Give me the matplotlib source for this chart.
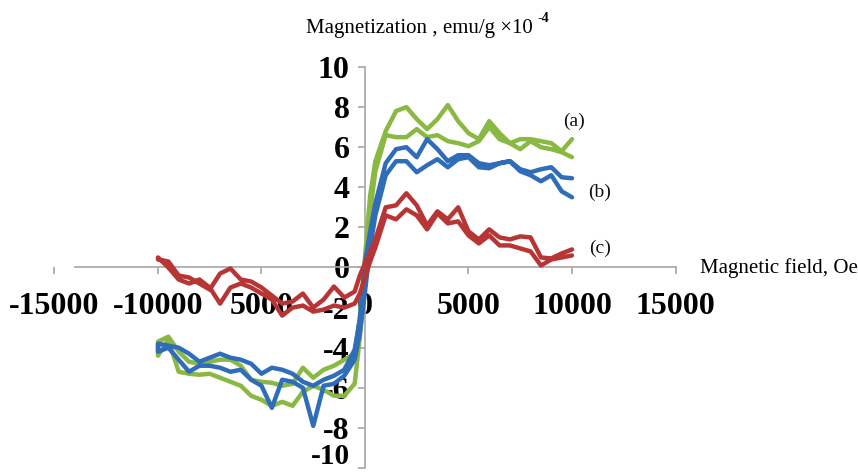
import matplotlib
matplotlib.use("Agg")
import matplotlib.pyplot as plt
import matplotlib.transforms as mtransforms

# Applied field (Oe), shared by every branch
field = [-10000, -9500, -9000, -8500, -8000, -7500, -7000, -6500, -6000, -5500,
         -5000, -4500, -4000, -3500, -3000, -2500, -2000, -1500, -1000, -500,
         -250, 0, 250, 500, 1000, 1500, 2000, 2500, 3000, 3500,
         4000, 4500, 5000, 5500, 6000, 6500, 7000, 7500, 8000, 8500,
         9000, 9500, 10000]

# Sample (a): magnetization, emu/g x 1e-4
a_desc = [-3.7, -3.45, -4.2, -4.7, -4.8, -4.7, -4.6, -4.6, -4.9, -5.6,
          -5.7, -5.75, -5.9, -5.8, -5.0, -5.5, -5.1, -4.9, -4.6, -4.3,
          -2.5, 0.5, 3.6, 5.3, 6.8, 7.8, 8.0, 7.4, 6.9, 7.4,
          8.1, 7.3, 6.7, 6.4, 7.3, 6.7, 6.2, 6.4, 6.4, 6.3,
          6.2, 5.8, 6.4]
a_asc = [-4.4, -3.6, -5.2, -5.3, -5.35, -5.3, -5.5, -5.7, -5.9, -6.4,
         -6.6, -6.9, -6.7, -6.9, -6.2, -5.9, -6.1, -6.4, -6.4, -5.8,
         -3.5, -0.5, 2.8, 4.8, 6.6, 6.5, 6.5, 6.9, 6.5, 6.6,
         6.3, 6.2, 6.05, 6.3, 7.0, 6.4, 6.2, 5.9, 6.3, 6.0,
         5.9, 5.75, 5.5]

# Sample (b)
b_desc = [-3.8, -3.9, -4.0, -4.3, -4.7, -4.5, -4.3, -4.5, -4.6, -4.8,
          -5.3, -5.0, -5.1, -5.3, -5.7, -5.9, -5.6, -5.4, -5.1, -4.1,
          -2.6, 0.3, 1.8, 3.2, 5.2, 5.9, 6.0, 5.5, 6.4, 5.9,
          5.3, 5.6, 5.6, 5.2, 5.1, 5.2, 5.3, 4.9, 4.75, 4.9,
          5.0, 4.5, 4.45]
b_asc = [-4.2, -4.0, -4.6, -5.2, -4.9, -4.9, -5.0, -5.2, -5.1, -5.6,
         -5.9, -7.0, -5.6, -5.7, -6.0, -7.9, -5.9, -5.8, -5.4, -4.6,
         -3.3, -1.2, 1.0, 2.6, 4.6, 5.3, 5.3, 4.75, 5.1, 5.4,
         5.0, 5.4, 5.5, 5.0, 4.95, 5.2, 5.3, 4.8, 4.6, 4.3,
         4.6, 3.8, 3.5]

# Sample (c)
c_desc = [0.4, 0.3, -0.4, -0.5, -0.8, -1.1, -0.3, -0.05, -0.6, -0.7,
          -1.0, -1.4, -1.8, -1.7, -1.3, -2.0, -1.6, -0.95, -1.5, -1.2,
          -0.4, 0.2, 0.8, 1.4, 3.0, 3.1, 3.7, 3.1, 2.1, 2.8,
          2.4, 3.0, 1.8, 1.4, 1.9, 1.5, 1.4, 1.55, 1.5, 0.5,
          0.45, 0.7, 0.9]
c_asc = [0.5, 0.0, -0.6, -0.8, -0.6, -1.0, -1.8, -1.0, -0.8, -1.0,
         -1.3, -1.6, -2.4, -2.0, -1.9, -2.2, -2.1, -1.9, -2.0, -1.8,
         -1.3, -0.5, 0.3, 1.0, 2.6, 2.4, 2.9, 2.6, 1.9, 2.7,
         2.2, 2.3, 1.6, 1.2, 1.6, 1.1, 1.1, 0.95, 0.8, 0.1,
         0.4, 0.5, 0.6]

x_ticks = [-15000, -10000, -5000, 0, 5000, 10000, 15000]
x_tick_labels = ["-15000", "-10000", "5000", "0", "5000", "10000", "15000"]
y_ticks = [-10, -8, -6, -4, -2, 0, 2, 4, 6, 8, 10]
y_tick_labels = ["-10", "-8", "-6", "-4", "-2", "0", "2", "4", "6", "8", "10"]

samples = [("(a)", a_desc, a_asc, "#8AB943", 10100, 7.3),
           ("(b)", b_desc, b_asc, "#2F6DB9", 11350, 3.75),
           ("(c)", c_desc, c_asc, "#B83535", 11350, 0.95)]

SERIF = "Liberation Serif"
AXIS_GREY = "#A6A6A6"

fig = plt.figure(figsize=(8.58, 4.72), dpi=100)
ax = fig.add_axes([0.0635, 0.0085, 0.7238, 0.8496])
ax.set_axisbelow(True)

for name, desc, asc, color, lx, ly in samples:
    # descending branch from +H to -H, then ascending branch back
    xs = field[::-1] + field
    ys = desc[::-1] + asc
    ax.plot(xs, ys, color=color, lw=3.2, solid_joinstyle="round",
            solid_capstyle="round", zorder=3)
    ax.text(lx, ly, name, family=SERIF, fontsize=14, ha="center",
            va="center", color="#111111")

ax.set_xlim(-15000, 15000)
ax.set_ylim(-10, 10)

for side in ("top", "right"):
    ax.spines[side].set_visible(False)
ax.spines["left"].set_position(("data", 0))
ax.spines["bottom"].set_position(("data", 0))
ax.spines["bottom"].set_bounds(-14000, 15000)
for side in ("left", "bottom"):
    ax.spines[side].set_color(AXIS_GREY)
    ax.spines[side].set_linewidth(1.2)

ax.set_xticks(x_ticks)
ax.set_xticklabels(x_tick_labels, family=SERIF, fontsize=23, fontweight="bold")
ax.set_yticks(y_ticks)
ax.set_yticklabels(y_tick_labels, family=SERIF, fontsize=23, fontweight="bold")
ax.tick_params(axis="x", direction="out", length=5, width=1.2,
               color=AXIS_GREY, pad=13)
ax.tick_params(axis="y", direction="out", length=5, width=1.2,
               color=AXIS_GREY, pad=6)

# lift the bottom label so it stays inside the figure
lowest = ax.get_yticklabels()[0]
lowest.set_fontsize(21)
lowest.set_transform(lowest.get_transform()
                     + mtransforms.ScaledTranslation(0, 0.14, fig.dpi_scale_trans))

fig.text(306 / 858, 1 - 33 / 472, "Magnetization , emu/g \u00d710",
         family=SERIF, fontsize=15, va="baseline", ha="left")
fig.text(537 / 858, 1 - 22 / 472, "-4", family=SERIF, fontsize=10,
         fontweight="bold", va="baseline", ha="left")
fig.text(700 / 858, 1 - 273 / 472, "Magnetic field, Oe", family=SERIF,
         fontsize=15, va="baseline", ha="left")

fig.savefig("out.png", dpi=100)
